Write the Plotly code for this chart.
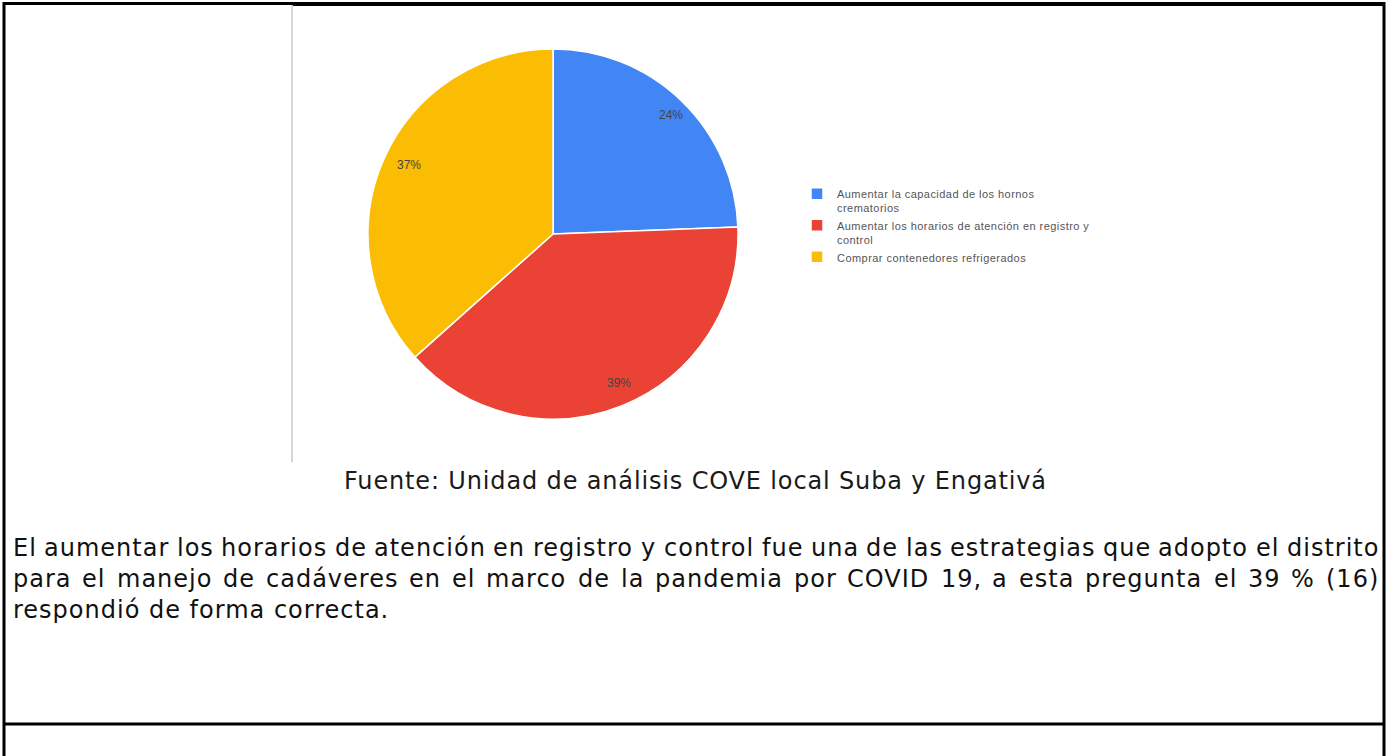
import math
import plotly.graph_objects as go

W, H = 1389, 756

# Survey answers (respondents per option)
opciones = [
    "Aumentar la capacidad de los hornos<br>crematorios",
    "Aumentar los horarios de atención en registro y<br>control",
    "Comprar contenedores refrigerados",
]
respuestas = [10, 16, 15]
colores = ["#4285F4", "#EA4335", "#FBBC04"]

fuente = "Fuente: Unidad de análisis COVE local Suba y Engativá"
parrafo = [
    "El aumentar los horarios de atención en registro y control fue una de las estrategias que adopto el distrito",
    "para el manejo de cadáveres en el marco de la pandemia por COVID 19, a esta pregunta el 39 % (16)",
    "respondió de forma correcta.",
]


def px_x(x):
    return x / W


def px_y(y):
    return 1 - y / H


# DejaVu Sans advance widths (font units, 2048 per em) used to justify the paragraph
ANCHOS = {
    " ": 651, "%": 1946, "(": 799, ")": 799, ",": 651, ".": 651, ":": 690,
    "A": 1401, "B": 1405, "C": 1430, "D": 1577, "E": 1294, "F": 1178, "G": 1587,
    "H": 1540, "I": 604, "J": 604, "K": 1343, "L": 1141, "M": 1767, "N": 1532,
    "O": 1612, "P": 1235, "Q": 1612, "R": 1423, "S": 1300, "T": 1251, "U": 1499,
    "V": 1401, "W": 2025, "X": 1403, "Y": 1251, "Z": 1403,
    "a": 1255, "b": 1300, "c": 1126, "d": 1300, "e": 1260, "f": 721, "g": 1300,
    "h": 1298, "i": 569, "j": 569, "k": 1186, "l": 569, "m": 1995, "n": 1298,
    "o": 1253, "p": 1300, "q": 1300, "r": 842, "s": 1067, "t": 803, "u": 1298,
    "v": 1212, "w": 1675, "x": 1212, "y": 1212, "z": 1075,
    "á": 1255, "é": 1260, "í": 569, "ó": 1253, "ú": 1298,
}


def ancho(texto, size, espaciado):
    return sum(ANCHOS.get(c, 1303) for c in texto) * size / 2048 + espaciado * len(texto)


def espaciar(texto, espaciado):
    return f'<span style="letter-spacing:{espaciado}px">{texto}</span>'


# pie placement on the page
pie_x = [px_x(368), px_x(738)]
pie_y = [px_y(419), px_y(49)]

fig = go.Figure(
    go.Pie(
        labels=[espaciar(o, 0.45) for o in opciones],
        values=respuestas,
        sort=False,
        direction="clockwise",
        rotation=0,
        marker=dict(colors=colores, line=dict(color="white", width=1.5)),
        textinfo="none",
        hoverinfo="label+percent",
        domain=dict(x=pie_x, y=pie_y),
    )
)

# percentage labels set near the rim of each slice
total = sum(respuestas)
cx = (pie_x[0] + pie_x[1]) / 2 * W
cy = (1 - (pie_y[0] + pie_y[1]) / 2) * H
R = (pie_x[1] - pie_x[0]) * W / 2
acum = 0
for v in respuestas:
    mid = (acum + v / 2) / total * 2 * math.pi
    acum += v
    r = 0.88 * R
    lx = cx + r * math.sin(mid) + 5
    ly = cy - r * math.cos(mid) - 2
    fig.add_annotation(
        x=px_x(lx), y=px_y(ly), xref="paper", yref="paper",
        text=f"{round(100 * v / total)}%", showarrow=False,
        font=dict(family="Liberation Sans, Arial", size=12, color="#444444"),
        xanchor="center", yanchor="middle",
    )

# caption under the chart
fig.add_annotation(
    x=px_x(695), y=px_y(481), xref="paper", yref="paper",
    text=espaciar(fuente, 0.85),
    showarrow=False, xanchor="center", yanchor="middle",
    font=dict(family="DejaVu Sans", size=24, color="#1a1a1a"),
)

# body paragraph, justified between the page margins (last line ragged)
izq, der, tam, ls = 12, 1378, 24, 1.0
fuente_parrafo = dict(family="DejaVu Sans", size=tam, color="#111111")
for i, linea in enumerate(parrafo):
    y = px_y(548 + 31 * i)
    if i == len(parrafo) - 1:
        fig.add_annotation(
            x=px_x(izq), y=y, xref="paper", yref="paper", text=espaciar(linea, ls),
            showarrow=False, xanchor="left", yanchor="middle", borderpad=0,
            font=fuente_parrafo,
        )
        continue
    palabras = linea.split(" ")
    anchos = [ancho(p, tam, ls) for p in palabras]
    hueco = (der - izq - sum(anchos)) / (len(palabras) - 1)
    x = izq
    for p, a in zip(palabras, anchos):
        fig.add_annotation(
            x=px_x(x), y=y, xref="paper", yref="paper", text=espaciar(p, ls),
            showarrow=False, xanchor="left", yanchor="middle", borderpad=0,
            font=fuente_parrafo,
        )
        x += a + hueco

# page frame and divider lines
borde = dict(color="black", width=3)
fig.add_shape(type="line", xref="paper", yref="paper",
              x0=px_x(3), x1=px_x(1385), y0=px_y(3.5), y1=px_y(3.5), line=borde)
fig.add_shape(type="line", xref="paper", yref="paper",
              x0=px_x(292), x1=px_x(1385), y0=px_y(4.5), y1=px_y(4.5), line=borde)
fig.add_shape(type="line", xref="paper", yref="paper",
              x0=px_x(4), x1=px_x(4), y0=px_y(2), y1=px_y(756), line=borde)
fig.add_shape(type="line", xref="paper", yref="paper",
              x0=px_x(1384), x1=px_x(1384), y0=px_y(2), y1=px_y(756), line=borde)
fig.add_shape(type="line", xref="paper", yref="paper",
              x0=px_x(3), x1=px_x(1385), y0=px_y(724), y1=px_y(724),
              line=dict(color="black", width=3))
fig.add_shape(type="line", xref="paper", yref="paper",
              x0=px_x(292), x1=px_x(292), y0=px_y(5), y1=px_y(462),
              line=dict(color="#d6d6d6", width=2))

fig.update_layout(
    width=W, height=H,
    margin=dict(l=0, r=0, t=0, b=0),
    paper_bgcolor="white", plot_bgcolor="white",
    showlegend=True,
    legend=dict(
        x=px_x(797), y=px_y(180), xanchor="left", yanchor="top",
        font=dict(family="Liberation Sans, Arial", size=11, color="#555555"),
        valign="top", tracegroupgap=0, bgcolor="rgba(0,0,0,0)",
    ),
)

fig.write_html("out.html")
